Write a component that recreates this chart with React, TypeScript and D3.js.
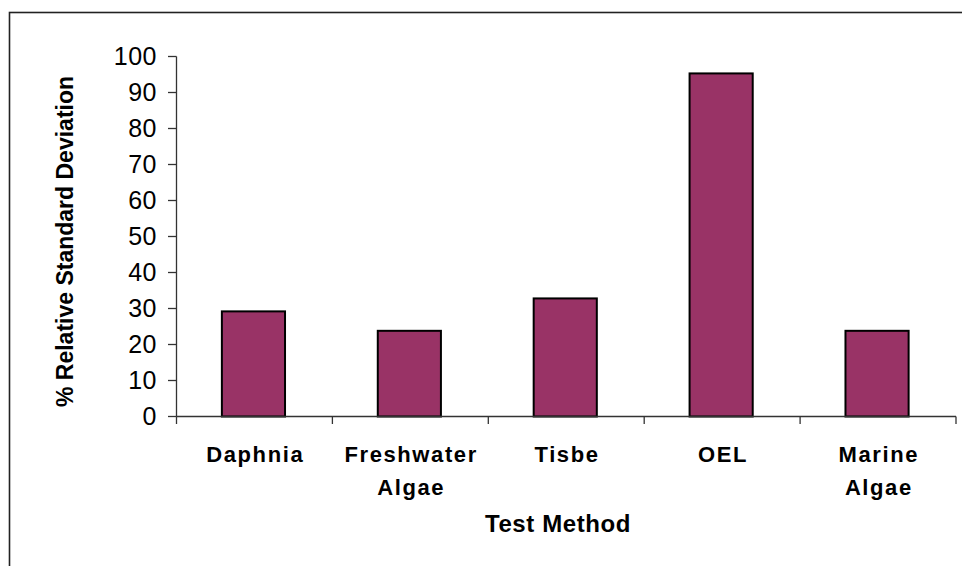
import React from "react";
import * as d3 from "d3";

const categories: string[][] = [
  ["Daphnia"],
  ["Freshwater", "Algae"],
  ["Tisbe"],
  ["OEL"],
  ["Marine", "Algae"],
];
const values: number[] = [29.2, 23.8, 32.8, 95.3, 23.8];
const yTicks: number[] = [0, 10, 20, 30, 40, 50, 60, 70, 80, 90, 100];
const yTitle = "% Relative Standard Deviation";
const xTitle = "Test Method";

const W = 962;
const H = 566;
const left = 176.5;
const right = 956;
const top = 56.5;
const bottom = 416.5;

export default function App() {
  const keys = categories.map((c) => c.join(" "));
  const x = d3.scaleBand<string>().domain(keys).range([left, right]).padding(0);
  const y = d3.scaleLinear().domain([0, 100]).range([bottom, top]);
  const barW = x.bandwidth() * 0.405;
  const boundaries = [...keys.map((k) => x(k) as number), right];

  return (
    <svg
      width={W}
      height={H}
      style={{ position: "absolute", left: 0, top: 0, background: "#fff" }}
      fontFamily="'Liberation Sans', Arial, sans-serif"
    >
      <rect x={9.5} y={12.5} width={W + 20} height={H + 20} fill="none" stroke="#222" strokeWidth={1.6} />
      {/* bars */}
      {values.map((v, i) => {
        const cx = (x(keys[i]) as number) + x.bandwidth() / 2 - 1;
        return (
          <rect
            key={keys[i]}
            x={cx - barW / 2}
            y={y(v)}
            width={barW}
            height={y(0) - y(v)}
            fill="#993366"
            stroke="#000"
            strokeWidth={2}
          />
        );
      })}
      {/* y axis */}
      <line x1={left} x2={left} y1={top} y2={bottom} stroke="#333" strokeWidth={1.3} />
      {yTicks.map((t) => (
        <g key={t}>
          <line x1={168} x2={left} y1={y(t)} y2={y(t)} stroke="#333" strokeWidth={1.3} />
          <text
            x={157}
            y={y(t) + 8.8}
            textAnchor="end"
            fontSize={25}
            letterSpacing={0.5}
            fill="#000"
          >
            {t}
          </text>
        </g>
      ))}
      {/* x axis */}
      <line x1={left} x2={right} y1={bottom} y2={bottom} stroke="#333" strokeWidth={1.3} />
      {boundaries.map((b, i) => (
        <line key={i} x1={b} x2={b} y1={bottom} y2={424} stroke="#333" strokeWidth={1.3} />
      ))}
      {categories.map((lines, i) => {
        const cx = (x(keys[i]) as number) + x.bandwidth() / 2;
        return (
          <text key={keys[i]} textAnchor="middle" fontSize={22} fontWeight="bold" letterSpacing={1.6} fill="#000">
            {lines.map((l, j) => (
              <tspan key={j} x={cx + 0.8} y={461.7 + j * 33.6}>
                {l}
              </tspan>
            ))}
          </text>
        );
      })}
      <text x={558} y={532.3} textAnchor="middle" fontSize={24} fontWeight="bold" letterSpacing={0.6} fill="#000">
        {xTitle}
      </text>
      <text
        transform={`translate(72.5,241.5) rotate(-90)`}
        textAnchor="middle"
        fontSize={23}
        fontWeight="bold"
        fill="#000"
      >
        {yTitle}
      </text>
    </svg>
  );
}
